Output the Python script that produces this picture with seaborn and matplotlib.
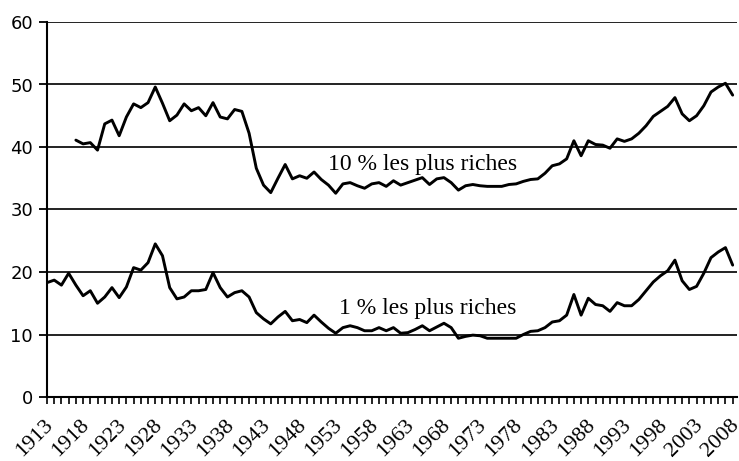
import numpy as np
import pandas as pd
import matplotlib
matplotlib.use("Agg")
import matplotlib.pyplot as plt
import matplotlib.transforms as mtransforms
from matplotlib.ticker import MultipleLocator, FixedLocator
import seaborn as sns

# ---- data ----
years_top10 = list(range(1917, 2009))
top10 = [
    41.1, 40.5, 40.7, 39.5, 43.7, 44.3, 41.8, 44.8, 46.9, 46.3,   # 1917-1926
    47.1, 49.6, 47.0, 44.2, 45.1, 46.9, 45.8, 46.3, 45.0, 47.1,   # 1927-1936
    44.8, 44.5, 46.0, 45.7, 42.2, 36.6, 33.9, 32.7, 35.0, 37.2,   # 1937-1946
    34.9, 35.4, 35.0, 36.0, 34.8, 33.9, 32.6, 34.1, 34.3, 33.8,   # 1947-1956
    33.4, 34.1, 34.3, 33.7, 34.6, 33.9, 34.3, 34.7, 35.1, 34.0,   # 1957-1966
    34.9, 35.1, 34.3, 33.1, 33.8, 34.0, 33.8, 33.7, 33.7, 33.7,   # 1967-1976
    34.0, 34.1, 34.5, 34.8, 34.9, 35.8, 37.0, 37.3, 38.1, 41.0,   # 1977-1986
    38.6, 41.0, 40.4, 40.3, 39.8, 41.3, 40.9, 41.3, 42.2, 43.4,   # 1987-1996
    44.9, 45.7, 46.5, 47.9, 45.3, 44.2, 45.0, 46.6, 48.8, 49.6,   # 1997-2006
    50.2, 48.3,                                                   # 2007-2008
]
years_top1 = list(range(1913, 2009))
top1 = [
    18.3, 18.7, 17.9, 19.8, 17.9, 16.2, 17.0, 15.0, 16.0, 17.5,   # 1913-1922
    15.9, 17.6, 20.7, 20.3, 21.5, 24.5, 22.6, 17.5, 15.7, 16.0,   # 1923-1932
    17.0, 17.0, 17.2, 19.9, 17.5, 16.0, 16.7, 17.0, 16.0, 13.5,   # 1933-1942
    12.5, 11.7, 12.8, 13.7, 12.2, 12.4, 11.9, 13.1, 12.0, 11.0,   # 1943-1952
    10.2, 11.1, 11.4, 11.1, 10.6, 10.6, 11.1, 10.6, 11.1, 10.2,   # 1953-1962
    10.3, 10.8, 11.4, 10.6, 11.2, 11.8, 11.1, 9.4, 9.7, 9.9,      # 1963-1972
    9.8, 9.4, 9.4, 9.4, 9.4, 9.4, 10.0, 10.5, 10.6, 11.1,         # 1973-1982
    12.0, 12.2, 13.1, 16.4, 13.1, 15.8, 14.8, 14.6, 13.7, 15.1,   # 1983-1992
    14.6, 14.6, 15.6, 17.0, 18.4, 19.4, 20.2, 21.9, 18.6, 17.2,   # 1993-2002
    17.7, 19.8, 22.3, 23.2, 23.9, 21.1,                           # 2003-2008
]
label_top10 = "10 % les plus riches"
label_top1 = "1 % les plus riches"
tick_years = list(range(1913, 2009, 5))
y_ticks = [0, 10, 20, 30, 40, 50, 60]

df10 = pd.DataFrame({"year": years_top10, "share": top10})
df1 = pd.DataFrame({"year": years_top1, "share": top1})

# ---- style ----
sns.set_style("white")
plt.rcParams["font.family"] = ["Liberation Serif", "DejaVu Serif"]

fig = plt.figure(figsize=(7.39, 4.61), dpi=100)
ax = fig.add_axes([47 / 739, 64 / 461, 690 / 739, 375 / 461])

sns.lineplot(data=df10, x="year", y="share", ax=ax, color="black", linewidth=2.1)
sns.lineplot(data=df1, x="year", y="share", ax=ax, color="black", linewidth=2.1)

ax.set_xlim(1913, 2008.6)
ax.set_ylim(0, 60)
ax.set_xlabel("")
ax.set_ylabel("")

# gridlines
for v in y_ticks[1:]:
    ax.axhline(v, color="#111111", linewidth=1.3, zorder=0.5)

# spines
for s in ["top", "right"]:
    ax.spines[s].set_visible(False)
for s in ["left", "bottom"]:
    ax.spines[s].set_color("black")
    ax.spines[s].set_linewidth(1.5)

# y axis
ax.yaxis.set_major_locator(FixedLocator(y_ticks))
ax.set_yticklabels([str(v) for v in y_ticks], family=["DejaVu Sans"], fontsize=13)
ax.tick_params(axis="y", direction="out", length=6, width=1.3, pad=4, left=True, colors="black")

# x axis
ax.xaxis.set_major_locator(FixedLocator(tick_years))
ax.xaxis.set_minor_locator(MultipleLocator(1))
ax.set_xticklabels([str(y) for y in tick_years], fontsize=16, rotation=45,
                   ha="right", va="top", rotation_mode="anchor")
ax.tick_params(axis="x", which="both", direction="out", length=5, width=1.2,
               bottom=True, pad=8.5, colors="black")
offset = mtransforms.ScaledTranslation(-3 / 100, 0, fig.dpi_scale_trans)
for lab in ax.get_xticklabels():
    lab.set_transform(lab.get_transform() + offset)

# annotations
ax.text(1965.1, 36.3, label_top10, fontsize=17, ha="center", va="baseline", color="black")
ax.text(1965.8, 13.3, label_top1, fontsize=17, ha="center", va="baseline", color="black")

fig.savefig("out.png", dpi=100)
